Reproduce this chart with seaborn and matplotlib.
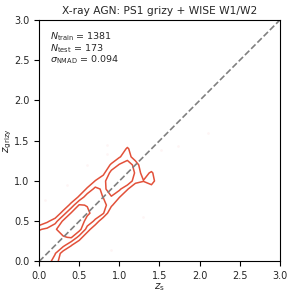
import numpy as np
import seaborn as sns
import matplotlib
matplotlib.use("Agg")
import matplotlib.pyplot as plt

# bin centres of the 2d density grid (z_s on x, z_grizy on y)
zs_bins = [0.0, 0.1, 0.2, 0.3, 0.4, 0.5, 0.6, 0.7, 0.8, 0.9, 1.0, 1.1, 1.2, 1.3, 1.4, 1.5]
zph_bins = [0.0, 0.1, 0.2, 0.3, 0.4, 0.5, 0.6, 0.7, 0.8, 0.9, 1.0, 1.1, 1.2, 1.3, 1.4, 1.5]

# smoothed counts, rows = z_grizy bins, cols = z_s bins
density = [
    [2.5, 2.4, 1.6, 0.0, 0.0, 0.0, 0.0, 0.0, 0.0, 0.0, 0.0, 0.0, 0.0, 0.0, 0.0, 0.0],
    [2.6, 2.7, 2.05, 0.4, 0.0, 0.0, 0.0, 0.0, 0.0, 0.0, 0.0, 0.0, 0.0, 0.0, 0.0, 0.0],
    [2.7, 2.8, 2.8, 2.3, 1.05, 0.0, 0.0, 0.0, 0.0, 0.0, 0.0, 0.0, 0.0, 0.0, 0.0, 0.0],
    [2.6, 2.8, 2.95, 2.9, 3.1, 1.6, 0.0, 0.0, 0.0, 0.0, 0.0, 0.0, 0.0, 0.0, 0.0, 0.0],
    [1.9, 2.2, 2.9, 3.5, 3.7, 3.4, 1.6, 0.0, 0.0, 0.0, 0.0, 0.0, 0.0, 0.0, 0.0, 0.0],
    [0.0, 0.8, 1.6, 3.2, 3.6, 3.7, 2.6, 1.8, 0.0, 0.0, 0.0, 0.0, 0.0, 0.0, 0.0, 0.0],
    [0.0, 0.0, 0.0, 1.5, 3.1, 3.6, 3.2, 2.6, 2.1, 0.0, 0.0, 0.0, 0.0, 0.0, 0.0, 0.0],
    [0.0, 0.0, 0.0, 0.0, 1.4, 3.1, 2.95, 2.9, 2.5, 1.2, 0.0, 0.0, 0.0, 0.0, 0.0, 0.0],
    [0.0, 0.0, 0.0, 0.0, 0.0, 1.2, 2.6, 2.7, 1.95, 1.95, 1.05, 0.0, 0.0, 0.0, 0.0, 0.0],
    [0.0, 0.0, 0.0, 0.0, 0.0, 0.0, 1.2, 2.3, 1.8, 2.4, 2.2, 1.1, 0.0, 0.0, 0.3, 0.0],
    [0.0, 0.0, 0.0, 0.0, 0.0, 0.0, 0.0, 1.05, 1.8, 2.5, 2.6, 2.9, 1.4, 1.05, 1.6, 0.0],
    [0.0, 0.0, 0.0, 0.0, 0.0, 0.0, 0.0, 0.0, 0.7, 2.4, 2.7, 2.8, 1.9, 0.5, 1.2, 0.0],
    [0.0, 0.0, 0.0, 0.0, 0.0, 0.0, 0.0, 0.0, 0.0, 1.2, 2.1, 2.5, 1.7, 0.0, 0.0, 0.0],
    [0.0, 0.0, 0.0, 0.0, 0.0, 0.0, 0.0, 0.0, 0.0, 0.0, 0.9, 1.6, 0.3, 0.0, 0.0, 0.0],
    [0.0, 0.0, 0.0, 0.0, 0.0, 0.0, 0.0, 0.0, 0.0, 0.0, 0.0, 1.2, 0.0, 0.0, 0.0, 0.0],
    [0.0, 0.0, 0.0, 0.0, 0.0, 0.0, 0.0, 0.0, 0.0, 0.0, 0.0, 0.0, 0.0, 0.0, 0.0, 0.0],
]
contour_levels = [1, 2, 3]

# faint individual test objects behind the contours
zs_pts = [0.07, 0.84, 0.84, 1.52, 1.73, 0.90, 0.35, 1.30, 0.60, 2.10]
zph_pts = [0.76, 1.45, 1.34, 1.39, 1.43, 0.14, 0.95, 0.55, 1.20, 1.60]

diag = [0.0, 3.0]
ticks = [0.0, 0.5, 1.0, 1.5, 2.0, 2.5, 3.0]

stat_lines = [r"$N_\mathrm{train}$ = 1381",
              r"$N_\mathrm{test}$ = 173",
              r"$\sigma_\mathrm{NMAD}$ = 0.094"]

sns.set_style("ticks")
plt.rcParams['font.family'] = ['DejaVu Sans']
plt.rcParams['mathtext.fontset'] = 'dejavusans'

fig = plt.figure(figsize=(2.94, 2.95), dpi=100)
ax = fig.add_axes([0.133, 0.1136, 0.819, 0.8186])

sns.scatterplot(x=zs_pts, y=zph_pts, ax=ax, s=4, color="#f08080", alpha=0.08, linewidth=0)
ax.contour(zs_bins, zph_bins, np.array(density), levels=contour_levels,
           colors="#e2513a", linewidths=1.1)
sns.lineplot(x=diag, y=diag, ax=ax, color="gray", linestyle="--", linewidth=1.2)

ax.set_xlim(0, 3)
ax.set_ylim(0, 3)
ax.set_xticks(ticks)
ax.set_yticks(ticks)
ax.tick_params(labelsize=7, length=3.5, width=0.8, color="black")
for sp in ax.spines.values():
    sp.set_color("black")
    sp.set_linewidth(0.8)

ax.set_xlabel(r"$z_\mathrm{s}$", fontsize=7.5, labelpad=0)
ax.set_ylabel(r"$z_\mathrm{grizy}$", fontsize=7.5, labelpad=0)
ax.set_title("X-ray AGN: PS1 grizy + WISE W1/W2", fontsize=7.7, pad=4)

ax.text(0.045, 0.955, "\n".join(stat_lines), transform=ax.transAxes,
        ha="left", va="top", fontsize=6.8, linespacing=0.85)

fig.savefig("out.png", dpi=100)
